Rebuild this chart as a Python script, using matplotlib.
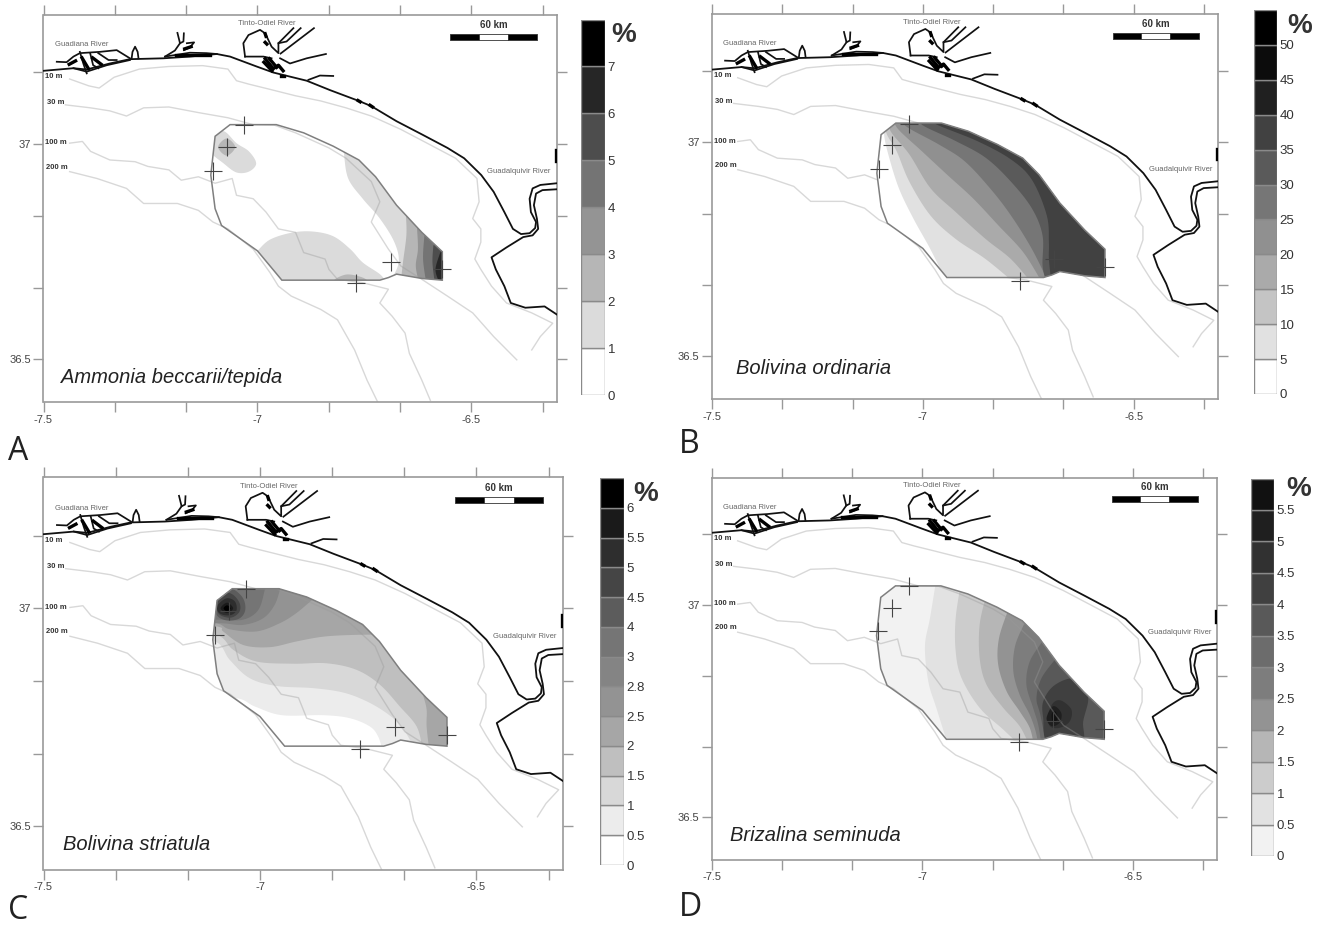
#!/usr/bin/env python3
"""Four foraminifera distribution maps in the Gulf of Cadiz, with grey colour bars."""

import matplotlib
matplotlib.use("Agg")
import matplotlib.pyplot as plt
from matplotlib.patches import Polygon

plt.rcParams['font.family'] = ['Liberation Sans', 'DejaVu Sans']

W, H = 1323, 926

# ---- map geometry, lon / lat ----
coast = [(-7.5, 37.170), (-7.430, 37.176), (-7.399, 37.173), (-7.345, 37.187), (-7.298, 37.197),
         (-7.220, 37.199), (-7.158, 37.203), (-7.095, 37.209), (-7.064, 37.203), (-7.002, 37.180),
         (-6.963, 37.166), (-6.885, 37.147), (-6.830, 37.125), (-6.763, 37.100), (-6.734, 37.088),
         (-6.675, 37.053), (-6.615, 37.022), (-6.556, 36.991), (-6.517, 36.967), (-6.477, 36.928),
         (-6.448, 36.889), (-6.423, 36.842), (-6.403, 36.803), (-6.384, 36.791), (-6.364, 36.793),
         (-6.351, 36.805), (-6.349, 36.819), (-6.361, 36.842), (-6.364, 36.873), (-6.357, 36.897),
         (-6.339, 36.905), (-6.3, 36.909)]
coast_south = [(-6.3, 36.895), (-6.334, 36.893), (-6.349, 36.885), (-6.354, 36.858), (-6.347, 36.827),
               (-6.344, 36.803), (-6.357, 36.788), (-6.379, 36.784), (-6.418, 36.760), (-6.453, 36.737),
               (-6.443, 36.709), (-6.423, 36.670), (-6.408, 36.631), (-6.374, 36.620), (-6.329, 36.623),
               (-6.3, 36.604)]
estuaries = [
    [(-7.469, 37.191), (-7.446, 37.190), (-7.430, 37.203), (-7.415, 37.211), (-7.368, 37.214),
     (-7.329, 37.218), (-7.298, 37.199)],
    [(-7.415, 37.214), (-7.407, 37.187), (-7.399, 37.164)],
    [(-7.391, 37.211), (-7.384, 37.183), (-7.372, 37.176)],
    [(-7.430, 37.176), (-7.399, 37.168), (-7.352, 37.183), (-7.298, 37.195)],
    [(-7.372, 37.211), (-7.348, 37.195), (-7.329, 37.195)],
    [(-7.294, 37.199), (-7.292, 37.214), (-7.286, 37.226), (-7.280, 37.214), (-7.278, 37.199)],
    [(-7.216, 37.203), (-7.193, 37.217), (-7.181, 37.234), (-7.187, 37.258)],
    [(-7.181, 37.234), (-7.173, 37.238), (-7.172, 37.257)],
    [(-7.165, 37.234), (-7.148, 37.236), (-7.158, 37.224), (-7.172, 37.218)],
    [(-7.216, 37.203), (-7.158, 37.212), (-7.119, 37.211), (-7.095, 37.209)],
    [(-7.029, 37.203), (-7.033, 37.234), (-7.021, 37.253), (-6.994, 37.265), (-6.982, 37.257),
     (-6.967, 37.226), (-6.951, 37.211), (-6.951, 37.234), (-6.916, 37.269)],
    [(-6.951, 37.234), (-6.932, 37.238), (-6.899, 37.269)],
    [(-6.946, 37.210), (-6.868, 37.269)],
    [(-7.029, 37.203), (-6.986, 37.203), (-6.967, 37.199)],
    [(-6.947, 37.199), (-6.924, 37.187), (-6.885, 37.199), (-6.840, 37.209)],
    [(-6.881, 37.149), (-6.854, 37.159), (-6.823, 37.158)],
]
estuary_blobs = [
    [(-6.982, 37.198), (-6.963, 37.175), (-6.951, 37.183), (-6.940, 37.170)],
    [(-6.972, 37.198), (-6.955, 37.178)],
    [(-6.985, 37.190), (-6.966, 37.170)],
    [(-6.944, 37.158), (-6.937, 37.158)],
    [(-6.982, 37.256), (-6.980, 37.250)],
    [(-6.982, 37.236), (-6.978, 37.232)],
    [(-6.765, 37.101), (-6.760, 37.098)],
    [(-6.737, 37.090), (-6.731, 37.086)],
    [(-6.302, 36.985), (-6.302, 36.960)],
    [(-7.440, 37.185), (-7.425, 37.193)],
    [(-7.410, 37.200), (-7.395, 37.175)],
    [(-7.385, 37.200), (-7.365, 37.185)],
    [(-7.190, 37.207), (-7.110, 37.207)],
    [(-7.170, 37.221), (-7.155, 37.226)],
]
iso_10 = [(-7.439, 37.151), (-7.394, 37.135), (-7.370, 37.130), (-7.335, 37.155), (-7.276, 37.174),
          (-7.207, 37.180), (-7.128, 37.182), (-7.069, 37.174), (-7.049, 37.147), (-7.020, 37.139),
          (-6.971, 37.127), (-6.911, 37.112), (-6.852, 37.100), (-6.793, 37.084), (-6.734, 37.065),
          (-6.665, 37.034), (-6.596, 36.998), (-6.537, 36.967), (-6.487, 36.920), (-6.482, 36.866),
          (-6.497, 36.827), (-6.478, 36.803), (-6.478, 36.772), (-6.492, 36.733), (-6.478, 36.709),
          (-6.453, 36.670), (-6.418, 36.631), (-6.359, 36.608), (-6.310, 36.584), (-6.339, 36.553),
          (-6.359, 36.522)]
iso_30 = [(-7.449, 37.091), (-7.390, 37.084), (-7.345, 37.077), (-7.306, 37.065), (-7.266, 37.084),
          (-7.207, 37.086), (-7.138, 37.073), (-7.069, 37.061), (-7.010, 37.045), (-6.961, 37.044),
          (-6.911, 37.026), (-6.833, 36.991), (-6.793, 36.967), (-6.734, 36.913), (-6.714, 36.866),
          (-6.734, 36.819), (-6.694, 36.756), (-6.665, 36.717), (-6.616, 36.686), (-6.556, 36.647),
          (-6.497, 36.608), (-6.448, 36.553), (-6.394, 36.499)]
iso_100 = [(-7.439, 37.002), (-7.409, 37.006), (-7.390, 36.983), (-7.345, 36.963), (-7.286, 36.959),
           (-7.256, 36.948), (-7.207, 36.940), (-7.178, 36.916), (-7.138, 36.924), (-7.099, 36.909),
           (-7.059, 36.920), (-7.049, 36.881), (-7.010, 36.873), (-6.980, 36.842), (-6.951, 36.803),
           (-6.911, 36.795), (-6.892, 36.748), (-6.842, 36.733), (-6.833, 36.709), (-6.813, 36.686),
           (-6.754, 36.678), (-6.694, 36.663), (-6.714, 36.631), (-6.685, 36.600), (-6.655, 36.561),
           (-6.645, 36.514), (-6.616, 36.452), (-6.596, 36.405)]
iso_200 = [(-7.439, 36.936), (-7.375, 36.920), (-7.306, 36.897), (-7.266, 36.862), (-7.187, 36.862),
           (-7.138, 36.846), (-7.104, 36.819), (-7.069, 36.803), (-7.010, 36.756), (-6.971, 36.702),
           (-6.951, 36.670), (-6.921, 36.647), (-6.852, 36.616), (-6.813, 36.592), (-6.773, 36.522),
           (-6.744, 36.452), (-6.719, 36.401)]
survey_area = [(-7.064, 37.045), (-6.956, 37.045), (-6.892, 37.026), (-6.823, 36.995), (-6.763, 36.963),
               (-6.724, 36.924), (-6.675, 36.858), (-6.616, 36.795), (-6.568, 36.750), (-6.568, 36.684),
               (-6.616, 36.688), (-6.675, 36.698), (-6.694, 36.690), (-6.714, 36.684), (-6.943, 36.684),
               (-7.000, 36.752), (-7.084, 36.811), (-7.099, 36.850), (-7.109, 36.928), (-7.099, 37.018)]
stations = [(-7.032, 37.044), (-7.072, 36.993), (-7.105, 36.938), (-6.689, 36.727), (-6.569, 36.709),
            (-6.770, 36.677)]
depth_labels = [('10 m', -7.496, 37.156), ('30 m', -7.492, 37.096), ('100 m', -7.496, 37.003), ('200 m', -7.494, 36.946)]
river_labels = [('Guadiana River', -7.411, 37.230), ('Tinto-Odiel River', -6.979, 37.280), ('Guadalquivir River', -6.389, 36.936)]
scale_lons = [-6.55, -6.482, -6.414, -6.346]
scale_lats = [37.242, 37.256]

x_ticks = [-7.5, -7.3333, -7.1667, -7.0, -6.8333, -6.6667, -6.5, -6.3333]
x_labels = ['-7.5', '', '', '-7', '', '', '-6.5', '']
y_ticks = [36.5, 36.6667, 36.8333, 37.0, 37.1667]
y_labels = ['36.5', '', '', '37', '']

# far side of contour bands, out of the survey area so the clip cuts them
cap_east = [(-6.4, 36.6), (-6.4, 37.1)]
cap_north_east = [(-6.4, 36.6), (-6.4, 37.1), (-7.3, 37.1)]

# ---- A: Ammonia beccarii/tepida ----
a_levels = ['0', '1', '2', '3', '4', '5', '6', '7']
a_greys = ['#ffffff', '#dbdbdb', '#b6b6b6', '#949494', '#747474', '#4d4d4d', '#262626', '#000000']
a_nw_1 = [(-7.110, 37.020), (-7.079, 37.030), (-7.049, 37.002), (-7.020, 36.983), (-7.003, 36.955),
          (-7.020, 36.936), (-7.049, 36.934), (-7.079, 36.955), (-7.110, 36.983)]
a_nw_2 = [(-7.092, 36.993), (-7.072, 37.013), (-7.052, 36.993), (-7.072, 36.973)]
a_south_1 = [(-7.000, 36.752), (-6.971, 36.778), (-6.921, 36.794), (-6.872, 36.797), (-6.823, 36.786),
             (-6.783, 36.756), (-6.754, 36.725), (-6.714, 36.698), (-6.700, 36.680)]
a_south_cap = [(-6.943, 36.670), (-7.02, 36.70)]
a_south_2 = [(-6.823, 36.680), (-6.793, 36.697), (-6.754, 36.690), (-6.744, 36.678), (-6.780, 36.668)]
a_east_1 = [(-6.800, 37.000), (-6.798, 36.979), (-6.788, 36.920), (-6.754, 36.873), (-6.714, 36.827),
            (-6.680, 36.772), (-6.670, 36.725), (-6.690, 36.680)]
a_east_2 = [(-6.653, 36.834), (-6.652, 36.788), (-6.660, 36.725), (-6.665, 36.680)]
a_east_3 = [(-6.627, 36.803), (-6.625, 36.756), (-6.630, 36.717), (-6.623, 36.680)]
a_east_4 = [(-6.610, 36.787), (-6.613, 36.733), (-6.606, 36.680)]
a_east_5 = [(-6.589, 36.764), (-6.591, 36.725), (-6.586, 36.680)]
a_east_6 = [(-6.574, 36.745), (-6.584, 36.709), (-6.576, 36.680)]

# ---- B: Bolivina ordinaria ----
b_levels = ['0', '5', '10', '15', '20', '25', '30', '35', '40', '45', '50']
b_greys = ['#ffffff', '#e1e1e1', '#c4c4c4', '#aaaaaa', '#909090', '#767676', '#5a5a5a', '#414141',
           '#202020', '#0c0c0c', '#000000']
b_5 = [(-7.092, 37.06), (-7.092, 37.019), (-7.082, 36.972), (-7.057, 36.893), (-7.022, 36.821), (-6.982, 36.750), (-6.942, 36.67)]
b_10 = [(-7.087, 37.06), (-7.087, 37.023), (-7.062, 36.979), (-7.032, 36.908), (-6.982, 36.829), (-6.922, 36.774),
        (-6.851, 36.727), (-6.781, 36.67)]
b_15 = [(-7.077, 37.06), (-7.077, 37.027), (-7.032, 36.972), (-6.982, 36.893), (-6.922, 36.837), (-6.851, 36.774),
        (-6.791, 36.727), (-6.741, 36.67)]
b_20 = [(-7.062, 37.06), (-7.062, 37.035), (-7.002, 36.979), (-6.942, 36.924), (-6.881, 36.869), (-6.821, 36.806),
        (-6.761, 36.742), (-6.716, 36.67)]
b_25 = [(-7.042, 37.06), (-7.042, 37.039), (-6.962, 36.995), (-6.901, 36.956), (-6.841, 36.893), (-6.791, 36.829),
        (-6.741, 36.750), (-6.701, 36.67)]
b_30 = [(-7.002, 37.06), (-7.002, 37.041), (-6.922, 37.003), (-6.851, 36.964), (-6.791, 36.908), (-6.741, 36.845),
        (-6.716, 36.782), (-6.716, 36.711), (-6.706, 36.67)]
b_35 = [(-6.972, 37.06), (-6.972, 37.044), (-6.871, 37.003), (-6.791, 36.960), (-6.741, 36.912), (-6.706, 36.829),
        (-6.701, 36.766), (-6.701, 36.727), (-6.695, 36.67)]

# ---- C: Bolivina striatula ----
c_levels = ['0', '0.5', '1', '1.5', '2', '2.5', '2.8', '3', '4', '4.5', '5', '5.5', '6']
c_greys = ['#ffffff', '#ececec', '#d8d8d8', '#bfbfbf', '#a6a6a6', '#939393', '#848484', '#757575',
           '#5c5c5c', '#454545', '#2e2e2e', '#1a1a1a', '#000000']
c_05 = [(-7.2, 36.800), (-7.060, 36.795), (-7.012, 36.775), (-6.950, 36.755), (-6.854, 36.755), (-6.792, 36.748),
        (-6.746, 36.729), (-6.727, 36.706), (-6.717, 36.675)]
c_1 = [(-7.2, 36.930), (-7.104, 36.924), (-7.070, 36.882), (-7.024, 36.840), (-6.962, 36.822), (-6.877, 36.817),
       (-6.808, 36.807), (-6.754, 36.787), (-6.708, 36.760), (-6.673, 36.729), (-6.646, 36.685)]
c_15 = [(-7.2, 36.945), (-7.100, 36.939), (-7.062, 36.905), (-7.008, 36.878), (-6.923, 36.873), (-6.846, 36.874),
        (-6.777, 36.859), (-6.723, 36.825), (-6.677, 36.775), (-6.638, 36.729), (-6.625, 36.680)]
c_2_north = [(-7.2, 36.974), (-7.097, 36.958), (-7.085, 36.947), (-7.039, 36.916), (-6.977, 36.911), (-6.916, 36.924),
             (-6.854, 36.935), (-6.785, 36.939), (-6.70, 36.94)]
c_2_cap = [(-6.70, 37.1), (-7.2, 37.1)]
c_2_east = [(-6.623, 36.800), (-6.615, 36.768), (-6.615, 36.729), (-6.609, 36.675)]
c_2_east_cap = [(-6.523, 36.675), (-6.523, 36.800)]
c_25 = [(-7.2, 36.966), (-7.104, 36.966), (-7.070, 36.952), (-7.008, 36.947), (-6.954, 36.966), (-6.916, 36.989),
        (-6.877, 37.021), (-6.854, 37.035), (-6.840, 37.06)]
c_28 = [(-7.2, 36.966), (-7.093, 36.966), (-7.039, 36.962), (-6.993, 36.977), (-6.966, 37.008), (-6.953, 37.046), (-6.950, 37.06)]
c_3 = [(-7.2, 36.974), (-7.093, 36.974), (-7.039, 36.974), (-7.004, 36.996), (-6.989, 37.042), (-6.986, 37.06)]
c_north_cap = [(-6.80, 37.1), (-7.2, 37.1)]
c_4 = [(-7.104, 37.023), (-7.085, 37.044), (-7.062, 37.044), (-7.039, 37.023), (-7.034, 36.996), (-7.047, 36.977),
       (-7.074, 36.972), (-7.097, 36.981), (-7.107, 37.004)]
c_45 = [(-7.100, 37.016), (-7.081, 37.035), (-7.062, 37.031), (-7.047, 37.012), (-7.047, 36.993), (-7.062, 36.980),
        (-7.081, 36.980), (-7.097, 36.990)]
c_5 = [(-7.097, 37.008), (-7.077, 37.023), (-7.058, 37.016), (-7.054, 36.996), (-7.066, 36.985), (-7.085, 36.985), (-7.097, 36.993)]
c_55 = [(-7.091, 37.000), (-7.076, 37.013), (-7.062, 37.000), (-7.076, 36.989)]
c_6 = [(-7.084, 37.0), (-7.076, 37.007), (-7.068, 37.0), (-7.076, 36.993)]

# ---- D: Brizalina seminuda ----
d_levels = ['0', '0.5', '1', '1.5', '2', '2.5', '3', '3.5', '4', '4.5', '5', '5.5']
d_greys = ['#f2f2f2', '#e2e2e2', '#cccccc', '#b6b6b6', '#939393', '#7d7d7d', '#6c6c6c', '#595959',
           '#404040', '#313131', '#1f1f1f', '#111111']
d_05 = [(-6.967, 37.06), (-6.982, 36.969), (-6.994, 36.903), (-6.986, 36.820), (-6.967, 36.758), (-6.939, 36.67)]
d_1 = [(-6.907, 37.06), (-6.921, 36.969), (-6.921, 36.891), (-6.907, 36.828), (-6.864, 36.758), (-6.808, 36.707), (-6.769, 36.67)]
d_15 = [(-6.848, 37.024), (-6.864, 36.954), (-6.864, 36.875), (-6.848, 36.813), (-6.808, 36.758), (-6.769, 36.715), (-6.746, 36.67)]
d_2 = [(-6.796, 36.989), (-6.818, 36.922), (-6.820, 36.860), (-6.800, 36.797), (-6.769, 36.750), (-6.745, 36.711), (-6.735, 36.67)]
d_25 = [(-6.759, 36.954), (-6.780, 36.903), (-6.784, 36.844), (-6.769, 36.789), (-6.745, 36.742), (-6.731, 36.703), (-6.725, 36.67)]
d_3 = [(-6.715, 36.914), (-6.745, 36.867), (-6.753, 36.813), (-6.737, 36.758), (-6.725, 36.719), (-6.717, 36.67)]
d_35 = [(-6.683, 36.874), (-6.717, 36.828), (-6.729, 36.781), (-6.720, 36.742), (-6.705, 36.67)]
d_4 = [(-6.646, 36.827), (-6.689, 36.809), (-6.713, 36.773), (-6.713, 36.734), (-6.701, 36.675), (-6.622, 36.675),
       (-6.618, 36.726), (-6.606, 36.777), (-6.618, 36.805)]
d_45 = [(-6.701, 36.742), (-6.689, 36.770), (-6.670, 36.775), (-6.646, 36.754), (-6.650, 36.726), (-6.674, 36.711), (-6.697, 36.715)]
d_5 = [(-6.705, 36.734), (-6.689, 36.762), (-6.670, 36.746), (-6.674, 36.723), (-6.693, 36.715)]
d_55 = [(-6.693, 36.742), (-6.685, 36.750), (-6.678, 36.734), (-6.689, 36.723)]


def spline(points, closed=False, steps=8):
    n = len(points)
    out = []
    for i in range(n if closed else n - 1):
        if closed:
            p0, p1, p2, p3 = points[i - 1], points[i], points[(i + 1) % n], points[(i + 2) % n]
        else:
            p0, p1, p2, p3 = points[max(i - 1, 0)], points[i], points[i + 1], points[min(i + 2, n - 1)]
        for s in range(steps):
            t = s / steps
            out.append(tuple(0.5 * (2 * b + (c - a) * t + (2 * a - 5 * b + 4 * c - d) * t ** 2
                                    + (3 * b - a - 3 * c + d) * t ** 3)
                             for a, b, c, d in zip(p0, p1, p2, p3)))
    if not closed:
        out.append(points[-1])
    return out


def px_axes(fig, left, top, right, bottom):
    return fig.add_axes([left / W, 1 - bottom / H, (right - left) / W, (bottom - top) / H])


def draw_line(ax, pts, **kw):
    ax.plot([p[0] for p in pts], [p[1] for p in pts], **kw)


def draw_map(ax, base_grey, bands, greys, species, species_pos, shaded_isobaths=True):
    ax.set_xlim(-7.5, -6.3)
    ax.set_ylim(36.4, 37.3)

    clip = Polygon(survey_area, closed=True, fc=base_grey, ec='none', zorder=2)
    ax.add_patch(clip)
    for level, pts, cap in bands:
        # a band is a contour plus its far side, or a closed ring when there is no cap
        outline_pts = spline(pts) + cap if cap else spline(pts, closed=True)
        patch = Polygon(outline_pts, closed=True, fc=greys[level], ec='none', zorder=2.5)
        ax.add_patch(patch)
        patch.set_clip_path(clip)

    # isobaths show faintly through the shading except in B
    z_iso = 3 if shaded_isobaths else 1.5
    for iso in [iso_10, iso_30, iso_100, iso_200]:
        draw_line(ax, iso, color='#999999', alpha=0.38, lw=1.0, zorder=z_iso)

    ax.add_patch(Polygon(survey_area, closed=True, fc='none', ec='#7f7f7f', lw=1.1, zorder=4))

    draw_line(ax, coast, color='#111111', lw=1.3, zorder=5)
    draw_line(ax, coast_south, color='#111111', lw=1.3, zorder=5)
    for line in estuaries:
        draw_line(ax, line, color='#111111', lw=1.25, zorder=5)
    for line in estuary_blobs:
        draw_line(ax, line, color='#000000', lw=2.4, zorder=5)

    for lon, lat in stations:
        ax.plot(lon, lat, marker='+', ms=13, mew=0.8, color='#444444', zorder=6)

    for text, lon, lat in depth_labels:
        ax.text(lon, lat, text, fontsize=5.5, fontweight='bold', color='#333333', ha='left', va='center', zorder=7)
    for text, lon, lat in river_labels:
        ax.text(lon, lat, text, fontsize=5.5, color='#666666', ha='center', va='center', zorder=7)

    # scale bar
    for i, fc in enumerate(['#000000', '#ffffff', '#000000']):
        ax.fill_between(scale_lons[i:i + 2], scale_lats[0], scale_lats[1], fc=fc, ec='#333333', lw=0.6, zorder=7)
    ax.text(-6.448, 37.277, '60 km', fontsize=7, fontweight='bold', color='#333333', ha='center', va='center', zorder=7)

    ax.text(species_pos[0], species_pos[1], species, fontsize=14.5, style='italic', color='#222222',
            ha='left', va='center', zorder=7)

    ax.set_xticks(x_ticks)
    ax.set_xticklabels(x_labels)
    ax.set_yticks(y_ticks)
    ax.set_yticklabels(y_labels)
    ax.tick_params(top=True, right=True, direction='out', length=7.5, width=1, color='#999999',
                   labelsize=8, labelcolor='#444444', pad=1.5)
    for spine in ax.spines.values():
        spine.set_color('#999999')
        spine.set_linewidth(1.2)


def draw_colorbar(ax, levels, greys):
    for i, grey in enumerate(greys):
        ax.bar(0, 1, bottom=i, width=1, color=grey, edgecolor='#8a8a8a', linewidth=1)
    ax.set_xlim(-0.5, 0.5)
    ax.set_ylim(0, len(greys))
    ax.set_xticks([])
    ax.yaxis.tick_right()
    ax.set_yticks(range(len(levels)))
    ax.set_yticklabels(levels)
    ax.tick_params(axis='y', length=0, labelsize=9.5, labelcolor='#333333', pad=2)
    for spine in ax.spines.values():
        spine.set_visible(False)


fig = plt.figure(figsize=(W / 100, H / 100), dpi=100, facecolor='white')

ax_a = px_axes(fig, 43.5, 14.8, 557, 402.5)
draw_map(ax_a, a_greys[0],
         [(1, a_nw_1, None), (2, a_nw_2, None), (1, a_south_1, a_south_cap), (2, a_south_2, None),
          (1, a_east_1, cap_east), (2, a_east_2, cap_east), (3, a_east_3, cap_east),
          (4, a_east_4, cap_east), (5, a_east_5, cap_east), (6, a_east_6, cap_east)],
         a_greys, 'Ammonia beccarii/tepida', (-7.459, 36.458))
draw_colorbar(px_axes(fig, 581, 19.5, 605, 395), a_levels, a_greys)

ax_b = px_axes(fig, 712, 14, 1218, 399)
draw_map(ax_b, b_greys[0],
         [(i + 1, pts, cap_east) for i, pts in enumerate([b_5, b_10, b_15, b_20, b_25, b_30, b_35])],
         b_greys, 'Bolivina ordinaria', (-7.443, 36.472), shaded_isobaths=False)
draw_colorbar(px_axes(fig, 1254, 10, 1277, 394), b_levels, b_greys)

ax_c = px_axes(fig, 43.5, 477.5, 563, 870)
draw_map(ax_c, c_greys[0],
         [(1, c_05, cap_north_east), (2, c_1, cap_north_east), (3, c_15, cap_north_east),
          (4, c_2_north, c_2_cap), (4, c_2_east, c_2_east_cap), (5, c_25, c_north_cap), (6, c_28, c_north_cap),
          (7, c_3, c_north_cap), (8, c_4, None), (9, c_45, None), (10, c_5, None), (11, c_55, None), (12, c_6, None)],
         c_greys, 'Bolivina striatula', (-7.456, 36.458))
draw_colorbar(px_axes(fig, 600, 478, 624, 865), c_levels, c_greys)

ax_d = px_axes(fig, 712, 477.5, 1217, 860)
draw_map(ax_d, d_greys[0],
         [(i + 1, pts, cap_east) for i, pts in enumerate([d_05, d_1, d_15, d_2, d_25, d_3, d_35])]
         + [(8, d_4, None), (9, d_45, None), (10, d_5, None), (11, d_55, None)],
         d_greys, 'Brizalina seminuda', (-7.458, 36.458))
draw_colorbar(px_axes(fig, 1251, 478.5, 1274, 856), d_levels, d_greys)

# percent signs and panel letters, placed in figure pixels
for px, py in [(624, 35), (1300, 26), (646, 494), (1299, 489)]:
    fig.text(px / W, 1 - py / H, '%', fontsize=20, fontweight='bold', color='#333333', ha='center', va='center')
for letter, px, py in [('A', 8, 460), ('B', 679, 453), ('C', 8, 919), ('D', 679, 916)]:
    fig.text(px / W, 1 - py / H, letter, fontsize=23, family=['Open Sans', 'DejaVu Sans'], color='#222222',
             ha='left', va='baseline')

fig.savefig('out.png', dpi=100)
